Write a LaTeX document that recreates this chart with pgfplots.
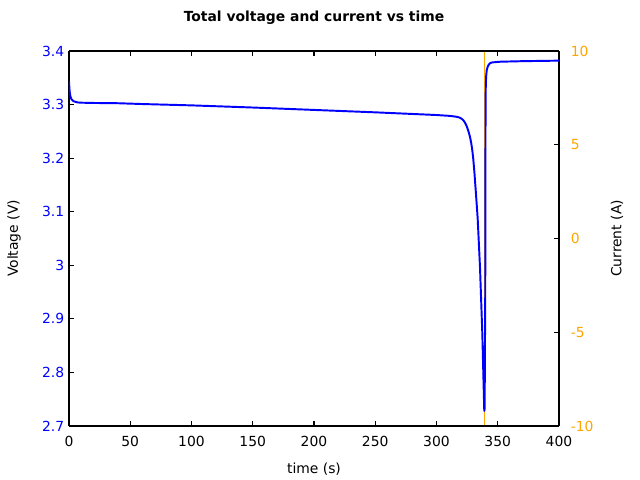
\documentclass[border=0pt]{standalone}
\usepackage{pgfplots}
\pgfplotsset{compat=1.18}
\usepackage{fontspec}
\setmainfont{DejaVu Sans}
\definecolor{vblue}{RGB}{0,0,255}
\definecolor{corange}{RGB}{255,165,0}
\begin{document}
\begin{tikzpicture}
\begin{axis}[
  at={(0,0)}, anchor=south west,
  scale only axis, width=352.8pt, height=270pt,
  xmin=0, xmax=400, ymin=-10, ymax=10,
  axis y line*=right, axis x line=none,
  ytick={-10,-5,0,5,10},
  tick align=inside, major tick length=3.5pt,
  tick style={black, line width=0.8pt},
  axis line style={line width=0.8pt},
  /pgf/number format/assume math mode=true,
  yticklabel style={text=corange, xshift=5pt},
  ylabel={Current (A)},
  ylabel style={at={(axis description cs:1.1184,0.5)}, anchor=center},
]
\addplot[corange, line width=0.6pt] coordinates {
(0,-20)(339.4,-20)(339.4,20)(400,20)
};
\end{axis}
\begin{axis}[
  at={(0,0)}, anchor=south west,
  scale only axis, width=352.8pt, height=270pt,
  xmin=0, xmax=400, ymin=2.7, ymax=3.4,
  axis y line*=left,
  xtick={0,50,100,150,200,250,300,350,400},
  ytick={2.7,2.8,2.9,3,3.1,3.2,3.3,3.4},
  yticklabels={2.7,2.8,2.9,3,3.1,3.2,3.3,3.4},
  xtick pos=both,
  tick align=inside, major tick length=3.5pt,
  tick style={black, line width=0.8pt},
  axis line style={line width=0.8pt},
  /pgf/number format/assume math mode=true,
  yticklabel style={text=vblue},
  xticklabel style={yshift=-3.5pt},
  title={Total voltage and current vs time},
  title style={at={(axis description cs:0.5,1.0667)}, anchor=center, font=\bfseries},
  xlabel={time (s)},
  xlabel style={at={(axis description cs:0.5,-0.1147)}, anchor=center},
  ylabel={Voltage (V)},
  ylabel style={at={(axis description cs:-0.1122,0.5)}, anchor=center},
]
\addplot[vblue, line width=1.4pt, line join=round] coordinates {
(0,3.344)(0.3,3.332)(0.6,3.323)(1,3.317)(1.5,3.313)(2,3.310)(3,3.3075)(4,3.306)(5.5,3.305)(7,3.304)(10,3.3035)
(20,3.303)(40,3.3025)(60,3.301)(100,3.2985)(150,3.2945)(200,3.290)
(250,3.2855)(300,3.2805)(310,3.279)(314,3.278)(317,3.277)(319,3.2755)(320.5,3.2735)(322,3.2705)
(323.2,3.2665)(324.3,3.2615)(325.3,3.2555)(326.3,3.2485)(327.3,3.240)(328.3,3.229)(329.2,3.215)
(330,3.199)(331,3.172)(332.2,3.134)(333.6,3.088)(335.5,2.997)
(337.4,2.873)(339.0,2.728)(339.3,2.732)(339.8,2.95)(340.0,3.25)(340.2,3.33)(340.5,3.352)(341,3.364)
(341.7,3.370)(342.5,3.374)(343.6,3.377)(345,3.3785)(347,3.379)(352,3.380)(370,3.381)(400,3.382)
};
\end{axis}
\pgfresetboundingbox
\path (-49.68pt,-38.88pt) rectangle (411.12pt,306.72pt);
\end{tikzpicture}
\end{document}
